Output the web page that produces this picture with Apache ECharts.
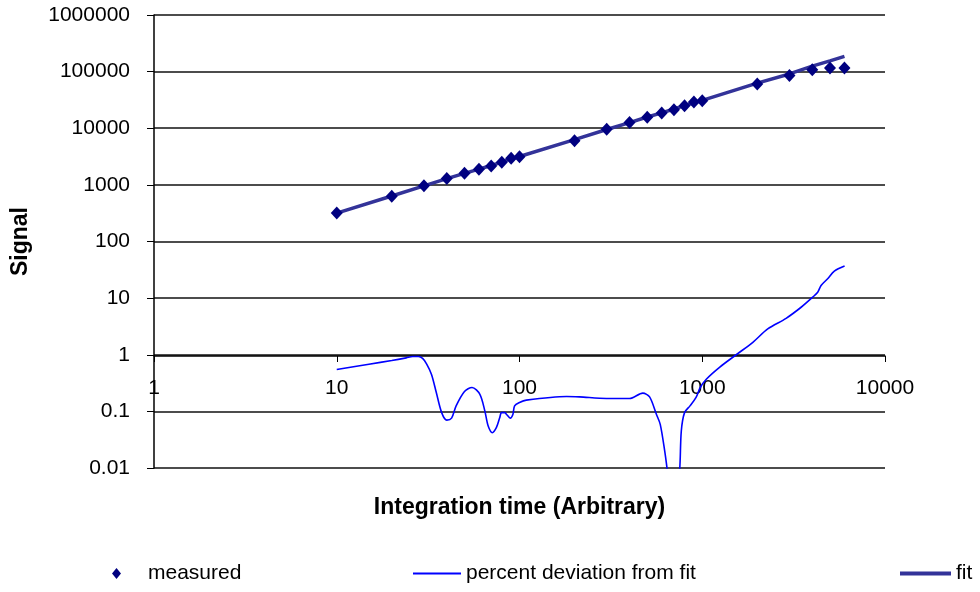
<!DOCTYPE html>
<html>
<head>
<meta charset="utf-8">
<title>Signal vs integration time</title>
<script src="https://cdn.jsdelivr.net/npm/echarts@6/dist/echarts.min.js"></script>
<style>
  html, body { margin: 0; padding: 0; background: #fff; }
  #chart { width: 980px; height: 592px; }
</style>
</head>
<body>
<div id="chart"></div>
<script>
// integration times of the measured points
const xMeasured = [10, 20, 30, 40, 50, 60, 70, 80, 90, 100, 200, 300, 400, 500, 600, 700, 800, 900, 1000, 2000, 3000, 4000, 5000, 6000]
// signal
const measured = [320, 630, 965, 1300, 1600, 1880, 2150, 2500, 2950, 3150, 6040, 9620, 12600, 15700, 18500, 21150, 24900, 28960, 30550, 60400, 85800, 108000, 116000, 116000]
const fitValues = [318, 637, 960, 1290, 1600, 1900, 2200, 2520, 2900, 3170, 6300, 9500, 12600, 15800, 18700, 21900, 25100, 28200, 31100, 62500, 91000, 125000, 155000, 186000]

// percent deviation curve (dense)
const devX = [10, 15, 20, 24, 26, 28, 29.5, 31, 33, 35, 37.5, 40, 42.5, 45, 50, 55, 60.7, 64.6, 67.4, 71, 74.8, 78, 79.7, 83, 85, 89, 92, 94, 100, 109, 181, 213, 299, 400, 473, 515, 561, 589, 623, 644, 700, 752, 768, 800, 857, 925, 975, 1052, 1243, 1534, 1892, 2282, 2876, 3475, 4020, 4283, 4468, 4855, 5281, 6010]
const devPct = [0.55, 0.68, 0.79, 0.88, 0.93, 0.93, 0.86, 0.69, 0.45, 0.22, 0.095, 0.07, 0.076, 0.125, 0.224, 0.264, 0.2, 0.102, 0.055, 0.042, 0.052, 0.078, 0.095, 0.095, 0.088, 0.076, 0.088, 0.125, 0.143, 0.158, 0.183, 0.18, 0.169, 0.169, 0.21, 0.18, 0.089, 0.059, 0.02, 0.009, 0.001, 0.009, 0.045, 0.095, 0.125, 0.176, 0.264, 0.37, 0.6, 1.0, 1.66, 2.86, 4.4, 6.9, 10.4, 12.7, 16.7, 22, 30, 36.8]

const FONT = 'Liberation Sans'

const myChart = echarts.init(document.getElementById('chart'), null, { renderer: 'canvas' })

const labelFmt = function (v) {
	return String(+Number(v).toPrecision(6))
}
const legendText = { fontSize: 21, color: '#000', fontFamily: FONT }

myChart.setOption({
	animation: false,
	backgroundColor: '#fff',
	textStyle: { fontFamily: FONT },
	grid: {
		left: 154,
		right: 95,
		top: 15,
		bottom: 124,
		containLabel: false,
		outerBoundsMode: 'none'
	},
	legend: [
		{
			data: [{ name: 'measured', icon: 'diamond' }],
			left: 112,
			top: 563,
			padding: 0,
			itemWidth: 9,
			itemHeight: 11,
			itemStyle: { opacity: 1 },
			textStyle: Object.assign({ padding: [0, 0, 0, 22] }, legendText)
		},
		{
			data: [{ name: 'percent deviation from fit', icon: 'rect' }],
			left: 413,
			top: 563,
			padding: 0,
			itemWidth: 48,
			itemHeight: 2,
			textStyle: legendText
		},
		{
			data: [{ name: 'fit', icon: 'rect' }],
			left: 900,
			top: 563,
			padding: 0,
			itemWidth: 51,
			itemHeight: 4,
			textStyle: legendText
		}
	],
	xAxis: {
		type: 'log',
		logBase: 10,
		min: 1,
		max: 10000,
		offset: -112,
		name: 'Integration time (Arbitrary)',
		nameLocation: 'middle',
		nameGap: 140,
		nameTextStyle: { fontSize: 23, fontWeight: 'bold', color: '#000', fontFamily: FONT },
		axisLine: { lineStyle: { color: '#000', width: 1.5 } },
		axisTick: { show: true, length: 6, lineStyle: { color: '#000' } },
		minorTick: { show: false },
		axisLabel: { fontSize: 21, color: '#000', margin: 22, formatter: labelFmt },
		splitLine: { show: false }
	},
	yAxis: {
		type: 'log',
		logBase: 10,
		min: 0.01,
		max: 1000000,
		name: 'Signal',
		nameLocation: 'middle',
		nameGap: 122,
		nameTextStyle: { fontSize: 23, fontWeight: 'bold', color: '#000', fontFamily: FONT },
		axisLine: { show: true, lineStyle: { color: '#000', width: 1.5 } },
		axisTick: { show: true, length: 7, lineStyle: { color: '#000' } },
		axisLabel: { fontSize: 21, color: '#000', margin: 24, formatter: labelFmt },
		splitLine: { show: true, lineStyle: { color: '#111', width: 1.5 } }
	},
	series: [
		{
			name: 'measured',
			type: 'scatter',
			symbol: 'diamond',
			symbolSize: [12, 13],
			itemStyle: { color: '#000080', opacity: 1 },
			z: 4,
			data: xMeasured.map(function (x, i) { return [x, measured[i]] })
		},
		{
			name: 'percent deviation from fit',
			type: 'line',
			symbol: 'none',
			smooth: 0.3,
			clip: true,
			lineStyle: { color: '#0000ff', width: 1.6 },
			itemStyle: { color: '#0000ff' },
			z: 3,
			data: devX.map(function (x, i) { return [x, devPct[i]] })
		},
		{
			name: 'fit',
			type: 'line',
			symbol: 'none',
			lineStyle: { color: '#333399', width: 3.5 },
			itemStyle: { color: '#333399' },
			z: 2,
			data: xMeasured.map(function (x, i) { return [x, fitValues[i]] })
		}
	]
})
window.addEventListener('resize', function () {
	myChart.resize()
})
</script>
</body>
</html>
